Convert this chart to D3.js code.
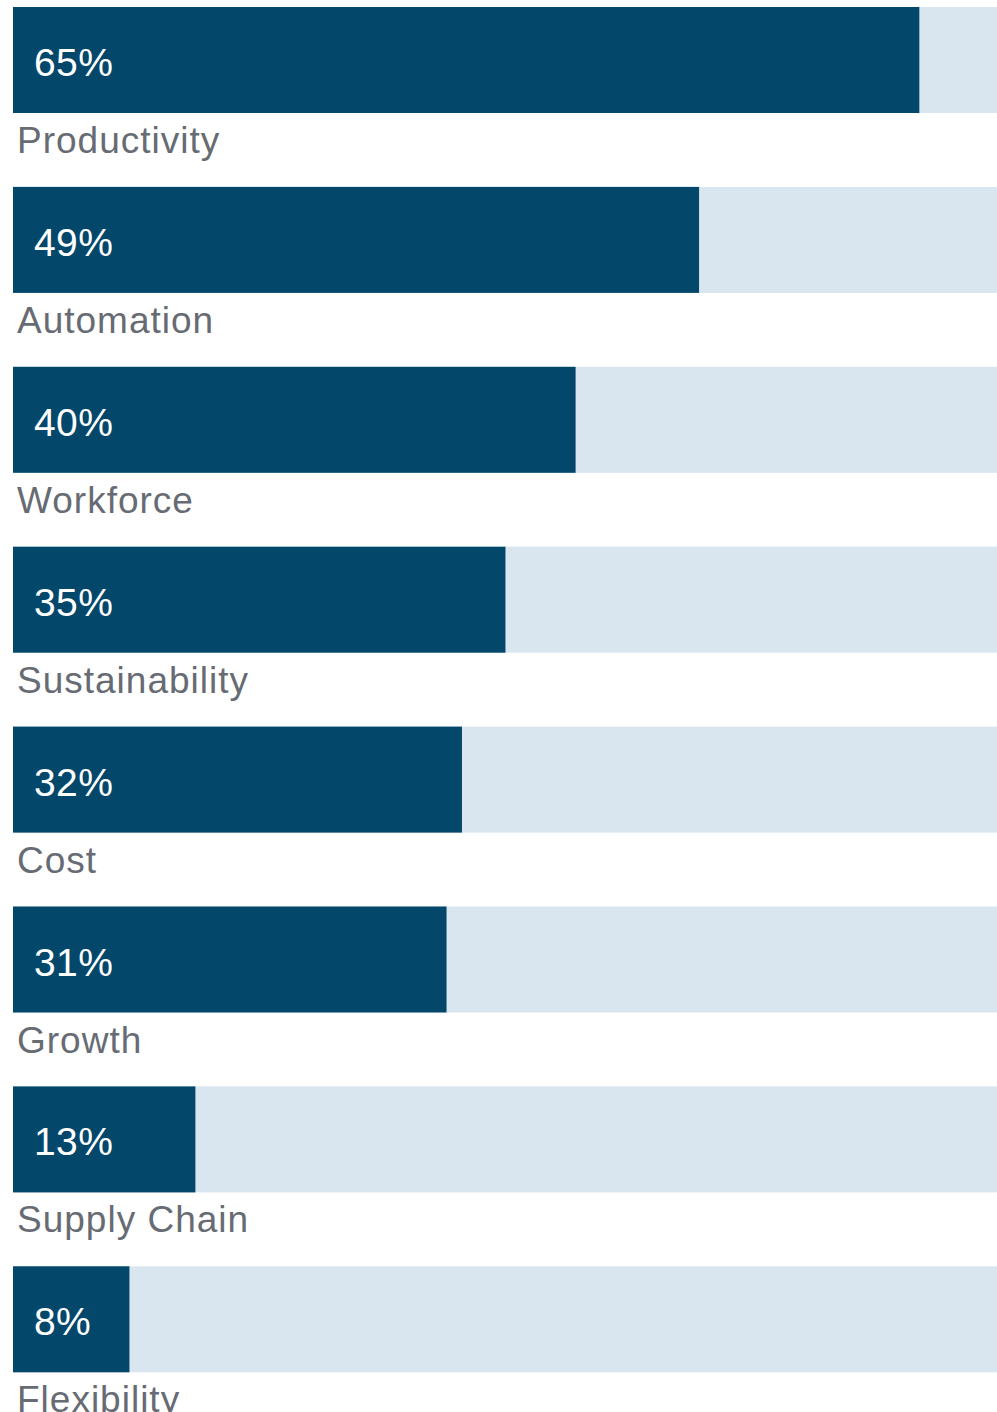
<!DOCTYPE html>
<html><head><meta charset="utf-8">
<script src="https://cdn.jsdelivr.net/npm/d3@7"></script>
<style>html,body{margin:0;padding:0;background:#fff;overflow:hidden}</style>
</head><body><svg id="c" width="997" height="1412"></svg>
<script>
const categories = ["Productivity","Automation","Workforce","Sustainability","Cost","Growth","Supply Chain","Flexibility"];
const values = [64.6,48.9,40.1,35.1,32.0,30.9,13.0,8.3];
const valueLabels = ["65%","49%","40%","35%","32%","31%","13%","8%"];

const svg = d3.select("#c");
const x = d3.scaleLinear().domain([0,100]).range([13,1416]);
const step = 179.9, bh = 106;
const y = d3.scaleLinear().domain([0,1]).range([7,7+step]);

const g = svg.selectAll("g.row").data(categories).join("g").attr("class","row")
  .attr("transform",(d,i)=>`translate(0,${y(i)})`);
g.append("rect").attr("x",x(0)).attr("y",0).attr("width",997-x(0)).attr("height",bh).attr("fill","#d9e5ef");
g.append("rect").attr("x",x(0)).attr("y",0).attr("width",(d,i)=>x(values[i])-x(0)).attr("height",bh).attr("fill","#03476b");
g.append("text").attr("x",34).attr("y",69).text((d,i)=>valueLabels[i])
  .attr("fill","#ffffff").attr("font-family","Liberation Sans, Arial, sans-serif").attr("font-size",39).attr("letter-spacing",0.4);
g.append("text").attr("x",17).attr("y",bh+40).text(d=>d)
  .attr("fill","#676b73").attr("font-family","Liberation Sans, Arial, sans-serif").attr("font-size",37).attr("letter-spacing",1.0);
</script></body></html>
